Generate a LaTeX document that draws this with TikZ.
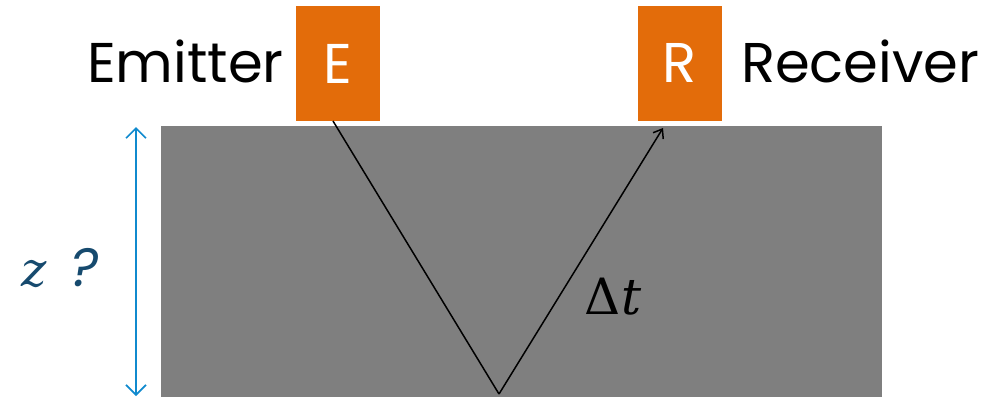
\documentclass[tikz,border=0pt]{standalone}
\usepackage{fontspec}
\setmainfont{Poppins}
\newfontfamily\mser{DejaVu Serif}
\usetikzlibrary{arrows.meta,calc}
\definecolor{orng}{RGB}{227,108,10}
\definecolor{slab}{RGB}{127,127,127}
\definecolor{zblue}{RGB}{16,138,206}
\definecolor{zdark}{RGB}{22,74,110}
\tikzset{
  box/.style={fill=orng, text=white, minimum width=84pt, minimum height=115pt, inner sep=0pt, font=\fontsize{56}{60}\selectfont},
  lbl/.style={inner sep=0pt, font=\fontsize{56}{60}\selectfont},
  ray/.style={line width=1.5pt, black},
}
\begin{document}
\begin{tikzpicture}[x=1pt,y=-1pt]
\useasboundingbox (0,0) rectangle (992,397);
\fill[slab] (161,126) rectangle (882,397);
\node[box] (E) at (338,63.5) {E};
\node[box] (R) at (680,63) {R};
\node[lbl, anchor=east] (em) at (284,61) {Emitter};
\node[lbl, anchor=west] (rc) at (741,61) {Receiver};
\coordinate (s) at (333,121);
\coordinate (b) at (499,394);
\coordinate (t) at (663,128);
\draw[ray] (s) -- (b);
\draw[ray, -{Straight Barb[length=8pt,width=12pt]}] (b) -- (t);
\node[inner sep=0pt, font=\mser\fontsize{50}{54}\selectfont] (dt) at (613,297) {Δ\kern1pt\textit{t}};
\coordinate (zt) at (136,127);
\coordinate (zb) at (136,396);
\draw[zblue, line width=1.6pt, {Straight Barb[length=10pt,width=20pt]}-{Straight Barb[length=10pt,width=20pt]}] (zt) -- (zb);
\node[inner sep=0pt, text=zdark, font=\fontsize{54}{58}\selectfont] (z) at (60,268) {{\mser\itshape\fontsize{48}{52}\selectfont z}\hspace{24pt}\textit{?}};
\end{tikzpicture}
\end{document}
